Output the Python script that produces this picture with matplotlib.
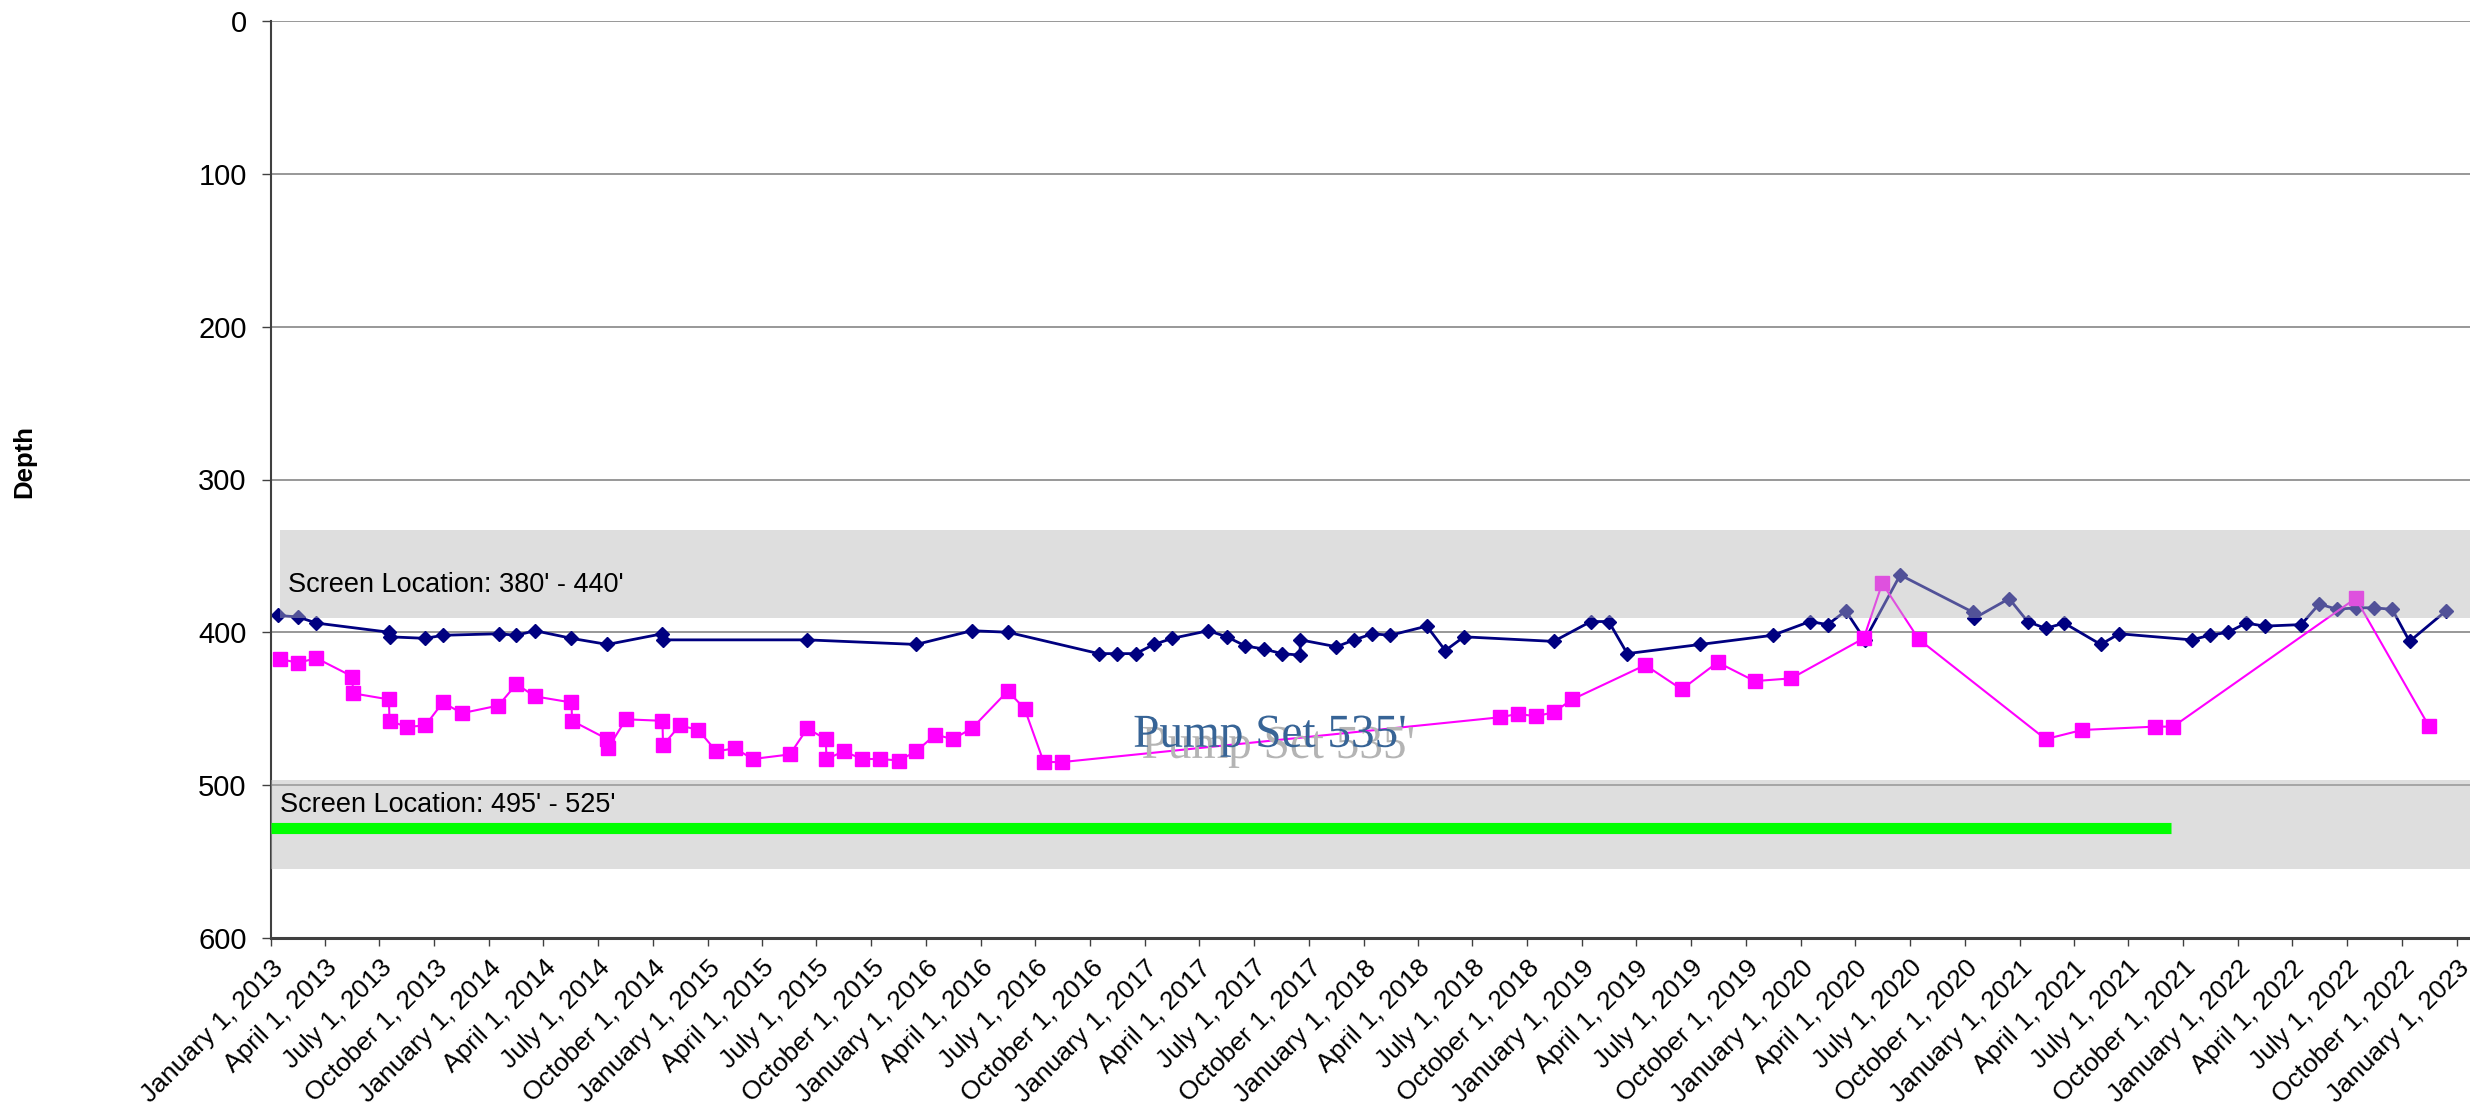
import numpy as np
import pandas as pd
import matplotlib
matplotlib.use('Agg')
import matplotlib.pyplot as plt
import matplotlib.dates as mdates
import matplotlib.patheffects as pe
from matplotlib.ticker import FuncFormatter

plt.rcParams['font.family'] = ['Liberation Sans', 'DejaVu Sans']

# static water level (navy diamonds)
static_dates = pd.to_datetime([
    '2013-01-13', '2013-02-15', '2013-03-18', '2013-07-17', '2013-07-18', '2013-09-16',
    '2013-10-15', '2014-01-17', '2014-02-15', '2014-03-18', '2014-05-18', '2014-07-17',
    '2014-10-17', '2014-10-18', '2015-06-16', '2015-12-15', '2016-03-17', '2016-05-16',
    '2016-10-15', '2016-11-14', '2016-12-16', '2017-01-15', '2017-02-15', '2017-04-16',
    '2017-05-17', '2017-06-17', '2017-07-18', '2017-08-17', '2017-09-16', '2017-09-17',
    '2017-11-16', '2017-12-16', '2018-01-15', '2018-02-14', '2018-04-16', '2018-05-17',
    '2018-06-17', '2018-11-14', '2019-01-15', '2019-02-14', '2019-03-17', '2019-07-17',
    '2019-11-15', '2020-01-16', '2020-02-15', '2020-03-16', '2020-04-17', '2020-06-15',
    '2020-10-15', '2020-10-16', '2020-12-14', '2021-01-14', '2021-02-13', '2021-03-16',
    '2021-05-16', '2021-06-16', '2021-10-15', '2021-11-14', '2021-12-15', '2022-01-14',
    '2022-02-14', '2022-04-16', '2022-05-16', '2022-06-15', '2022-07-16', '2022-08-15',
    '2022-09-15', '2022-10-14', '2022-12-14'])
static_depth = [
    389, 390, 394, 400, 403, 404,
    402, 401, 402, 399, 404, 408,
    401, 405, 405, 408, 399, 400,
    414, 414, 414, 408, 404, 399,
    403, 409, 411, 414, 415, 405,
    409.5, 405, 401, 402, 396, 412,
    403, 406, 393, 393, 414, 408,
    402, 393, 395, 386, 405, 362.5,
    387, 391, 378, 393, 397.5, 394,
    408, 401, 405, 402, 400, 394,
    396, 395, 381.5, 385, 384, 384,
    385, 406, 386]

# pumping water level (magenta squares)
pumping_dates = pd.to_datetime([
    '2013-01-16', '2013-02-15', '2013-03-18', '2013-05-17', '2013-05-18', '2013-07-17',
    '2013-07-18', '2013-08-16', '2013-09-16', '2013-10-15', '2013-11-16', '2014-01-16',
    '2014-02-15', '2014-03-18', '2014-05-18', '2014-05-19', '2014-07-17', '2014-07-18',
    '2014-08-17', '2014-10-17', '2014-10-18', '2014-11-15', '2014-12-16', '2015-01-15',
    '2015-02-15', '2015-03-17', '2015-05-18', '2015-06-16', '2015-07-17', '2015-07-18',
    '2015-08-16', '2015-09-16', '2015-10-16', '2015-11-16', '2015-12-15', '2016-01-16',
    '2016-02-14', '2016-03-17', '2016-05-16', '2016-06-13', '2016-07-15', '2016-08-15',
    '2018-08-16', '2018-09-15', '2018-10-16', '2018-11-14', '2018-12-15', '2019-04-16',
    '2019-06-16', '2019-08-15', '2019-10-16', '2019-12-16', '2020-04-15', '2020-05-16',
    '2020-07-16', '2021-02-13', '2021-04-15', '2021-08-15', '2021-09-14', '2022-07-16',
    '2022-11-15'])
pumping_depth = [
    417.5, 420, 417, 429, 440, 444,
    458, 462, 461, 446, 453, 448,
    434, 442, 446, 458, 470, 476,
    457, 458, 474, 461, 464, 478,
    476, 483, 480, 463, 470, 483,
    478, 483, 483, 484, 478, 467,
    470, 463, 438.5, 450, 485, 485,
    455.7, 453.5, 455, 452.4, 444, 421.5,
    437.4, 419.7, 432, 430.2, 404, 368,
    404.6, 470, 464, 461.8, 461.8, 377.8,
    461.2]

pump_line_dates = pd.to_datetime(['2013-01-01', '2021-09-10'])
pump_line_depth = [528, 528]

upper_band = (333, 391)
lower_band = (497, 555)

fig = plt.figure(figsize=(24.7, 11.06), dpi=100)
ax = fig.add_axes([271 / 2470, 1 - 937.7 / 1106, (2470 - 271) / 2470, (937.7 - 21.3) / 1106])

ax.plot(static_dates, static_depth, color='#000080', lw=2.0, marker='D', ms=7.5, zorder=2)
ax.plot(pumping_dates, pumping_depth, color='#ff00ff', lw=1.5, marker='s', ms=9.5, zorder=2.5)

ax.axhspan(*upper_band, xmin=0.004, xmax=1, color='#b6b6b6', alpha=0.45, lw=0, zorder=3)
ax.axhspan(*lower_band, color='#b6b6b6', alpha=0.45, lw=0, zorder=3)
ax.plot(pump_line_dates, pump_line_depth, color='#00ff00', lw=8, solid_capstyle='butt', zorder=4)

ax.text(pd.Timestamp('2013-01-29'), 373.7, "Screen Location: 380' - 440'", fontsize=19.5,
        va='baseline', zorder=6)
ax.text(pd.Timestamp('2013-01-16'), 517.5, "Screen Location: 495' - 525'", fontsize=19.5,
        va='baseline', zorder=6)
ax.text(pd.Timestamp('2017-07-28'), 475, "Pump Set 535'", family=['Liberation Serif', 'DejaVu Serif'],
        fontsize=34, color='#376496', ha='center', va='baseline', zorder=5,
        path_effects=[pe.withSimplePatchShadow(offset=(6, -8), shadow_rgbFace='#b4b4b4', alpha=1.0)])

ax.set_ylim(600, 0)
ax.set_yticks(range(0, 601, 100))
ax.set_xlim(pd.Timestamp('2013-01-01'), pd.Timestamp('2023-01-23'))
ax.xaxis.set_major_locator(mdates.MonthLocator(bymonth=[1, 4, 7, 10], bymonthday=1))


def date_label(x, pos):
    d = mdates.num2date(x)
    return f"{d:%B} {d.day}, {d.year}"


ax.xaxis.set_major_formatter(FuncFormatter(date_label))

ax.yaxis.grid(True, color='#868686', lw=1.2)
ax.set_axisbelow(True)
for s in ['top', 'right']:
    ax.spines[s].set_visible(False)
ax.spines['left'].set_color('#404040')
ax.spines['left'].set_linewidth(1.5)
ax.spines['bottom'].set_color('#404040')
ax.spines['bottom'].set_linewidth(2.2)

ax.tick_params(axis='y', labelsize=21, length=6.5, width=1, color='#404040', pad=11)
ax.tick_params(axis='x', labelsize=19, length=6, width=1, color='#404040', pad=7)
plt.setp(ax.get_xticklabels(), rotation=45, ha='right', rotation_mode='anchor')

fig.text(24 / 2470, 1 - 462 / 1106, 'Depth', rotation=90, fontsize=18.5, fontweight='bold',
         ha='center', va='center')

fig.savefig('out.png', dpi=100, facecolor='white')
